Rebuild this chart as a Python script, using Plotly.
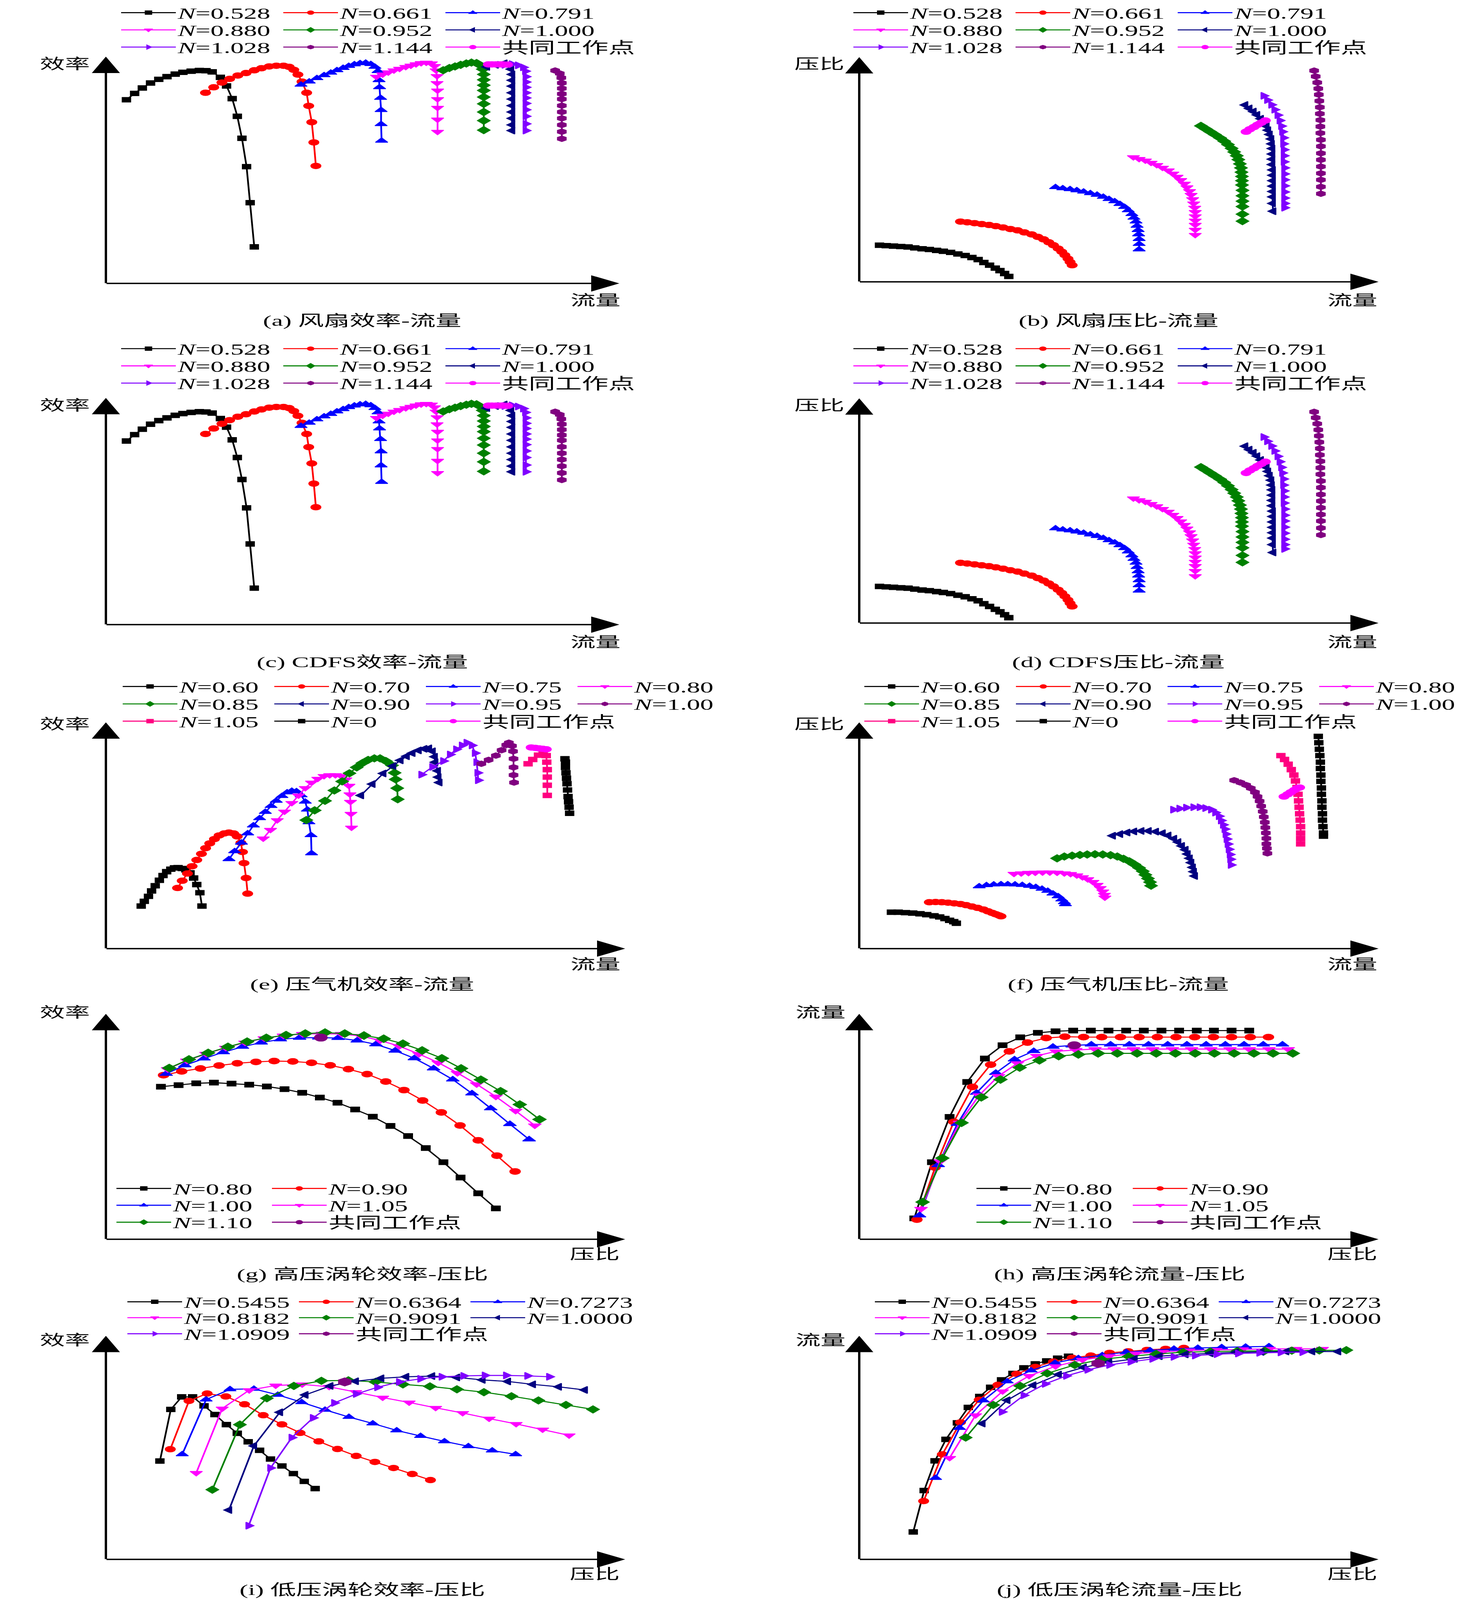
import plotly.graph_objects as go

W, H = 3780, 7057
SERIF = "Liberation Serif, Noto Sans CJK SC, serif"
FS_LEG = 68
FS_LAB = 64
FS_CAP = 66
LEG_DY, LAB_DY, CAP_DY = -2, 0, 2   # small optical corrections of text centres

BLACK = "#000000"; RED = "#FF0000"; BLUE = "#0000FF"; MAGENTA = "#FF00FF"
GREEN = "#008000"; NAVY = "#000080"; VIOLET = "#8000FF"; PURPLE = "#800080"; PINK = "#FF0080"

# ================= DATA (normalised readings; the figure shows no tick values) =================
# ---- fan efficiency vs flow : panels (a) and (c)
fan_eff_flow_0528 = [4.0, 5.6, 7.1, 8.7, 10.3, 11.9, 13.5, 15.0, 16.6, 18.2, 19.5, 20.7, 22.3, 23.5, 24.6, 25.6, 26.5, 27.4, 28.1, 28.9]
fan_eff_0528 = [81.0, 83.8, 86.2, 88.4, 90.0, 91.2, 92.3, 93.1, 93.6, 93.9, 93.8, 93.3, 90.9, 87.1, 81.5, 73.7, 64.0, 51.5, 35.6, 16.1]
fan_eff_flow_0661 = [19.4, 21.0, 22.6, 24.1, 25.7, 27.3, 28.9, 30.3, 31.8, 33.2, 34.6, 35.7, 36.6, 37.4, 38.2, 39.1, 39.5, 40.1, 40.5, 40.9]
fan_eff_0661 = [84.1, 86.5, 88.6, 90.2, 91.7, 92.8, 94.0, 94.9, 95.7, 96.0, 96.0, 95.5, 94.2, 92.1, 89.0, 84.1, 78.3, 71.1, 62.2, 51.8]
fan_eff_flow_0791 = [38.0, 39.6, 41.1, 42.5, 43.8, 45.0, 46.2, 47.3, 48.4, 49.5, 50.6, 51.6, 52.4, 53.0, 53.2, 53.3, 53.5, 53.6, 53.6, 53.7]
fan_eff_0791 = [87.6, 89.0, 90.5, 91.8, 92.9, 94.0, 95.0, 95.9, 96.6, 97.1, 97.3, 96.7, 95.5, 93.6, 89.6, 86.5, 81.8, 76.4, 70.2, 62.9]
fan_eff_flow_0880 = [52.7, 53.9, 55.0, 56.1, 57.2, 58.4, 59.4, 60.4, 61.4, 62.4, 63.4, 64.0, 64.3, 64.5, 64.5, 64.6, 64.6, 64.6, 64.6, 64.6]
fan_eff_0880 = [91.2, 92.2, 93.1, 94.0, 94.7, 95.5, 96.1, 96.7, 97.2, 97.4, 97.1, 95.9, 94.0, 91.5, 88.4, 85.1, 81.3, 77.5, 72.3, 66.9]
fan_eff_flow_0952 = [65.7, 66.9, 68.0, 69.1, 70.2, 71.2, 72.2, 72.9, 73.4, 73.6, 73.6, 73.6, 73.6, 73.6, 73.6, 73.6, 73.6, 73.6]
fan_eff_0952 = [94.0, 95.0, 95.7, 96.4, 97.0, 97.4, 97.2, 96.2, 94.5, 92.2, 89.8, 87.4, 85.1, 82.2, 79.2, 75.6, 71.8, 67.6]
fan_eff_flow_1000 = [74.2, 75.9, 77.6, 78.5, 78.9, 79.1, 79.1, 79.1, 79.1, 79.1, 79.1, 79.1, 79.1, 79.1, 79.1]
fan_eff_1000 = [95.5, 96.4, 97.1, 96.4, 94.5, 92.2, 89.6, 87.0, 84.1, 81.3, 78.4, 75.6, 72.8, 69.9, 67.4]
fan_eff_flow_1028 = [77.7, 79.1, 80.3, 81.3, 81.7, 81.8, 81.8, 81.8, 81.8, 81.8, 81.8, 81.8, 81.8, 81.8, 81.8]
fan_eff_1028 = [96.4, 96.7, 96.2, 95.3, 93.6, 91.2, 88.8, 86.5, 84.1, 81.8, 79.4, 76.6, 73.7, 70.4, 67.4]
fan_eff_flow_1144 = [87.5, 88.4, 88.7, 88.8, 88.8, 88.8, 88.8, 88.8, 88.8, 88.8, 88.8, 88.8, 88.8]
fan_eff_1144 = [93.9, 92.6, 90.7, 88.4, 86.0, 83.6, 81.3, 78.4, 75.6, 72.8, 69.9, 66.9, 63.8]
fan_cw_flow = [74.5, 75.2, 76.0, 76.7, 77.4, 78.2]
fan_cw_eff = [96.6, 96.6, 96.6, 96.6, 96.6, 96.5]

# ---- fan pressure ratio vs flow : panels (b) and (d)
fan_pr_flow_0528 = [3.9, 5.2, 6.6, 8.0, 9.4, 10.7, 12.1, 13.5, 14.9, 16.2, 17.6, 19.0, 20.4, 21.7, 22.9, 24.0, 25.1, 26.2, 27.1, 28.0, 28.8]
fan_pr_0528 = [16.3, 16.1, 15.9, 15.7, 15.5, 15.1, 14.7, 14.4, 14.0, 13.6, 13.1, 12.4, 11.7, 10.8, 9.9, 8.6, 7.4, 6.1, 5.0, 3.7, 2.4]
fan_pr_flow_0661 = [19.5, 20.8, 22.2, 23.6, 25.0, 26.3, 27.7, 29.1, 30.5, 31.8, 33.2, 34.4, 35.5, 36.5, 37.4, 38.3, 39.0, 39.6, 40.2, 40.6, 41.0]
fan_pr_0661 = [26.8, 26.5, 26.1, 25.7, 25.3, 24.8, 24.2, 23.5, 22.9, 22.0, 21.1, 20.0, 18.9, 17.6, 16.3, 14.8, 13.4, 11.9, 10.3, 8.8, 7.4]
fan_pr_flow_0791 = [37.8, 39.2, 40.6, 41.9, 43.2, 44.5, 45.8, 47.0, 48.1, 49.2, 50.2, 51.1, 51.8, 52.5, 52.9, 53.3, 53.5, 53.7, 53.8, 53.9, 53.9, 53.9]
fan_pr_0791 = [42.1, 41.6, 41.2, 40.7, 40.1, 39.4, 38.7, 37.8, 36.8, 35.8, 34.6, 33.3, 31.8, 30.1, 28.5, 26.8, 24.9, 23.0, 21.1, 19.0, 16.8, 14.4]
fan_pr_flow_0880 = [52.8, 53.9, 55.1, 56.2, 57.3, 58.4, 59.5, 60.4, 61.2, 61.9, 62.6, 63.1, 63.6, 63.9, 64.2, 64.4, 64.6, 64.7, 64.7, 64.7, 64.7, 64.7, 64.7]
fan_pr_0880 = [55.5, 54.7, 54.0, 53.0, 52.0, 50.8, 49.6, 48.2, 46.8, 45.3, 43.7, 42.1, 40.4, 38.7, 36.8, 34.9, 33.0, 31.1, 29.2, 27.3, 25.4, 23.2, 20.9]
fan_pr_flow_0952 = [65.8, 66.7, 67.6, 68.5, 69.5, 70.3, 71.0, 71.7, 72.2, 72.7, 73.0, 73.3, 73.5, 73.6, 73.7, 73.7, 73.7, 73.8, 73.8, 73.8, 73.8, 73.8, 73.8]
fan_pr_0952 = [69.4, 68.1, 66.8, 65.5, 64.0, 62.6, 61.1, 59.4, 57.8, 56.1, 54.4, 52.5, 50.7, 48.8, 46.9, 45.0, 43.1, 40.7, 38.3, 35.9, 33.5, 30.1, 27.0]
fan_pr_flow_1000 = [74.3, 75.1, 75.9, 76.6, 77.3, 77.8, 78.4, 78.7, 79.0, 79.3, 79.4, 79.5, 79.5, 79.5, 79.5, 79.6, 79.6, 79.6, 79.6, 79.6, 79.6, 79.6, 79.7]
fan_pr_1000 = [78.7, 77.2, 75.8, 74.3, 72.6, 71.0, 69.3, 67.5, 65.6, 63.6, 61.4, 59.3, 56.9, 54.6, 52.2, 49.8, 47.4, 45.0, 42.6, 40.2, 37.8, 34.9, 31.4]
fan_pr_flow_1028 = [77.9, 78.6, 79.4, 80.0, 80.6, 81.0, 81.3, 81.5, 81.7, 81.7, 81.8, 81.8, 81.8, 81.9, 81.9, 81.9, 81.9, 81.9, 81.9, 81.9, 81.9]
fan_pr_1028 = [82.8, 80.9, 78.8, 76.6, 74.2, 71.8, 69.3, 66.8, 64.1, 61.4, 58.8, 56.1, 53.4, 50.7, 48.0, 45.4, 42.7, 40.0, 37.3, 34.9, 33.0]
fan_pr_flow_1144 = [87.6, 87.9, 88.2, 88.4, 88.5, 88.6, 88.7, 88.7, 88.8, 88.8, 88.8, 88.9, 88.9, 88.9, 88.9, 88.9, 88.9, 88.9, 88.9, 88.9]
fan_pr_1144 = [94.0, 91.4, 88.7, 86.0, 83.3, 80.5, 77.7, 74.8, 72.0, 69.1, 66.2, 63.2, 60.3, 57.2, 54.3, 51.3, 48.3, 45.4, 42.3, 39.2]
fan_cw_pr = [66.8, 67.9, 68.9, 69.9, 70.8, 71.8]

# ---- compressor efficiency vs flow : panel (e)
cmp_eff_flow_060 = [6.8, 7.4, 8.2, 8.8, 9.5, 10.3, 11.0, 11.7, 12.5, 13.2, 13.9, 14.7, 15.4, 16.2, 16.9, 17.5, 18.1, 18.5]
cmp_eff_060 = [18.8, 20.9, 23.1, 25.5, 27.8, 30.2, 32.3, 34.0, 35.1, 35.7, 35.8, 35.4, 34.8, 33.5, 31.2, 28.3, 24.7, 18.8]
cmp_eff_flow_070 = [13.8, 14.7, 15.7, 16.6, 17.5, 18.4, 19.2, 20.0, 20.9, 21.8, 22.8, 23.7, 24.6, 25.3, 26.0, 26.3, 26.6, 27.0, 27.3]
cmp_eff_070 = [26.8, 30.0, 33.2, 36.4, 39.2, 41.9, 44.4, 46.5, 48.4, 50.0, 50.9, 51.3, 50.9, 49.6, 46.8, 42.7, 37.8, 31.2, 24.3]
cmp_eff_flow_075 = [23.7, 24.8, 26.1, 27.3, 28.4, 29.6, 30.7, 31.8, 32.8, 33.9, 34.9, 35.8, 36.7, 37.6, 38.4, 38.8, 39.1, 39.5, 39.6]
cmp_eff_075 = [39.5, 43.0, 46.8, 50.9, 54.4, 57.6, 60.4, 63.0, 65.3, 67.4, 69.0, 69.7, 69.5, 67.7, 64.9, 61.4, 55.8, 50.1, 42.1]
cmp_eff_flow_080 = [30.3, 31.7, 33.0, 34.4, 35.8, 37.1, 38.4, 39.6, 40.8, 42.0, 43.1, 44.2, 45.3, 46.2, 46.8, 47.0, 47.1, 47.2, 47.3]
cmp_eff_080 = [48.7, 52.5, 56.8, 60.6, 64.4, 67.7, 71.0, 73.4, 75.1, 76.3, 76.7, 76.7, 76.3, 74.8, 72.0, 68.2, 64.9, 59.6, 53.5]
cmp_eff_flow_085 = [38.6, 40.2, 42.2, 44.0, 45.5, 46.9, 48.3, 49.4, 50.5, 51.7, 52.8, 53.9, 55.1, 55.6, 55.8, 56.1, 56.2]
cmp_eff_085 = [56.8, 61.1, 65.3, 69.9, 73.9, 77.5, 80.1, 82.0, 83.4, 84.1, 84.1, 82.9, 81.0, 77.7, 74.8, 70.9, 66.0]
cmp_eff_flow_090 = [49.1, 51.3, 53.4, 55.3, 56.7, 57.9, 59.0, 60.2, 61.3, 62.2, 62.9, 63.3, 63.4, 63.9, 64.0, 64.2]
cmp_eff_090 = [67.7, 72.7, 77.4, 80.7, 83.2, 85.0, 86.4, 87.6, 88.3, 88.5, 87.2, 84.8, 82.4, 78.6, 75.8, 73.4]
cmp_eff_flow_095 = [60.8, 62.9, 65.0, 66.3, 67.5, 68.6, 69.5, 70.5, 71.1, 71.4, 71.6, 71.7]
cmp_eff_095 = [76.9, 80.3, 82.9, 85.8, 88.1, 89.8, 91.0, 89.8, 86.4, 82.4, 77.7, 74.4]
cmp_eff_flow_100 = [72.3, 73.7, 75.1, 76.2, 77.1, 77.6, 78.2, 78.4, 78.5, 78.5, 78.5, 78.6]
cmp_eff_100 = [81.7, 83.4, 85.3, 87.7, 90.0, 91.0, 89.6, 87.2, 83.9, 80.1, 76.7, 73.4]
cmp_eff_flow_105 = [81.3, 82.2, 83.3, 84.2, 84.8, 84.9, 85.0, 85.0, 85.0, 85.0]
cmp_eff_105 = [81.7, 83.6, 85.5, 86.4, 85.3, 82.4, 79.1, 75.8, 72.2, 67.7]
cmp_eff_flow_000 = [88.4, 88.5, 88.5, 88.6, 88.7, 88.8, 88.9, 89.0, 89.1, 89.2, 89.3]
cmp_eff_000 = [83.9, 82.4, 80.1, 77.7, 75.3, 72.9, 70.1, 67.2, 64.9, 62.5, 59.8]
cmp_cw_eff_flow = [81.9, 82.7, 83.4, 84.1, 84.8]
cmp_cw_eff = [88.9, 88.7, 88.5, 88.3, 88.1]

# ---- compressor pressure ratio vs flow : panel (f)
cmp_pr_flow_060 = [6.2, 7.5, 8.9, 10.3, 11.7, 13.0, 14.4, 15.5, 16.5, 17.4, 18.2, 18.7]
cmp_pr_060 = [16.1, 16.1, 15.9, 15.7, 15.4, 15.0, 14.5, 14.0, 13.3, 12.5, 11.9, 11.2]
cmp_pr_flow_070 = [13.5, 14.7, 15.9, 17.1, 18.3, 19.5, 20.6, 21.7, 22.8, 23.9, 24.8, 25.6, 26.3, 26.9, 27.3]
cmp_pr_070 = [20.5, 20.6, 20.5, 20.3, 20.0, 19.7, 19.2, 18.6, 18.0, 17.3, 16.5, 15.8, 15.2, 14.7, 14.3]
cmp_pr_flow_075 = [23.1, 24.5, 25.9, 27.3, 28.6, 30.0, 31.4, 32.8, 34.0, 35.2, 36.3, 37.3, 38.3, 39.0, 39.5, 39.7]
cmp_pr_075 = [27.5, 28.0, 28.3, 28.4, 28.4, 28.3, 28.1, 27.7, 27.2, 26.4, 25.5, 24.3, 23.1, 21.7, 20.5, 19.6]
cmp_pr_flow_080 = [29.8, 31.2, 32.6, 33.9, 35.3, 36.7, 38.1, 39.5, 40.7, 41.9, 43.0, 44.0, 45.0, 45.8, 46.4, 46.9, 47.2, 47.3]
cmp_pr_080 = [33.1, 33.3, 33.5, 33.6, 33.7, 33.7, 33.6, 33.3, 33.0, 32.4, 31.6, 30.7, 29.5, 28.2, 26.8, 25.3, 23.8, 22.6]
cmp_pr_flow_085 = [38.1, 39.5, 41.0, 42.5, 43.9, 45.4, 46.9, 48.4, 49.7, 50.9, 52.0, 53.0, 53.9, 54.6, 55.1, 55.6, 56.0, 56.2]
cmp_pr_085 = [39.9, 40.7, 41.1, 41.4, 41.6, 41.7, 41.6, 41.3, 40.7, 39.7, 38.6, 37.2, 35.7, 34.2, 32.6, 31.0, 29.4, 27.8]
cmp_pr_flow_090 = [48.8, 50.2, 51.6, 52.9, 54.3, 55.7, 57.1, 58.4, 59.5, 60.6, 61.4, 62.1, 62.8, 63.2, 63.6, 63.9, 64.2, 64.4, 64.6]
cmp_pr_090 = [49.9, 50.6, 51.3, 51.8, 52.0, 52.0, 51.7, 51.0, 50.0, 48.6, 47.1, 45.4, 43.7, 41.8, 39.9, 38.0, 35.9, 34.0, 32.1]
cmp_pr_flow_095 = [60.5, 61.7, 63.0, 64.4, 65.6, 66.7, 67.8, 68.6, 69.3, 69.7, 70.1, 70.4, 70.6, 70.8, 71.0, 71.2, 71.4, 71.5, 71.6]
cmp_pr_095 = [61.4, 61.9, 62.3, 62.5, 62.5, 62.1, 61.4, 60.1, 58.5, 56.6, 54.7, 52.8, 50.6, 48.4, 46.2, 43.9, 41.6, 39.5, 37.0]
cmp_pr_flow_100 = [72.2, 73.4, 74.5, 75.4, 76.2, 76.7, 77.1, 77.4, 77.7, 77.9, 78.1, 78.2, 78.3, 78.4, 78.4, 78.5, 78.6]
cmp_pr_100 = [74.4, 73.4, 72.3, 70.9, 69.1, 67.2, 65.2, 63.0, 60.6, 58.2, 55.8, 53.5, 51.1, 48.7, 46.3, 44.3, 42.1]
cmp_pr_flow_105 = [81.2, 81.9, 82.6, 83.2, 83.7, 84.0, 84.3, 84.5, 84.6, 84.7, 84.8, 84.9, 85.0, 85.0, 85.0, 85.0]
cmp_pr_105 = [85.3, 83.6, 81.5, 79.1, 76.7, 74.1, 71.2, 68.2, 65.3, 62.5, 59.6, 56.8, 53.9, 51.1, 48.7, 46.3]
cmp_pr_flow_000 = [88.4, 88.5, 88.6, 88.7, 88.8, 88.8, 88.9, 88.9, 89.0, 89.0, 89.1, 89.1, 89.2, 89.2, 89.3, 89.4, 89.4]
cmp_pr_000 = [93.8, 91.0, 88.1, 85.3, 82.4, 79.6, 76.7, 73.9, 71.0, 68.2, 65.3, 62.5, 59.6, 56.8, 53.9, 51.1, 49.7]
cmp_cw_pr_flow = [81.8, 82.5, 83.1, 83.8, 84.4, 84.8]
cmp_cw_pr = [67.2, 68.2, 69.1, 70.1, 70.9, 71.2]

# ---- high pressure turbine : panels (g) efficiency and (h) flow vs pressure ratio
hpt_pr_080 = [10.6, 14.0, 17.4, 20.8, 24.2, 27.6, 31.0, 34.4, 37.8, 41.2, 44.6, 48.0, 51.4, 54.8, 58.2, 61.6, 65.0, 68.3, 71.7, 75.1]
hpt_eff_080 = [67.7, 68.4, 69.2, 69.5, 69.1, 68.6, 67.8, 66.6, 65.0, 62.9, 60.6, 57.6, 54.4, 50.3, 45.8, 40.5, 34.2, 27.4, 20.4, 13.7]
hpt_flow_080 = [9.3, 34.2, 54.3, 69.8, 80.2, 86.1, 89.6, 91.6, 92.3, 92.6, 92.6, 92.6, 92.6, 92.6, 92.6, 92.6, 92.6, 92.6, 92.6, 92.6]
hpt_pr_090 = [11.1, 14.6, 18.2, 21.8, 25.3, 28.9, 32.4, 36.0, 39.6, 43.2, 46.7, 50.3, 53.9, 57.4, 61.0, 64.6, 68.2, 71.7, 75.3, 78.8]
hpt_eff_090 = [72.8, 74.5, 75.8, 77.1, 78.1, 78.7, 79.1, 78.9, 78.3, 77.2, 75.5, 73.3, 70.0, 66.2, 61.6, 56.3, 50.5, 43.9, 37.1, 30.1]
hpt_flow_090 = [8.7, 31.8, 52.1, 67.6, 77.5, 83.4, 87.3, 89.3, 89.9, 89.7, 89.7, 89.7, 89.7, 89.7, 89.7, 89.7, 89.7, 89.7, 89.7, 89.7]
hpt_pr_100 = [11.6, 15.2, 18.9, 22.6, 26.3, 29.9, 33.6, 37.3, 41.0, 44.7, 48.4, 52.0, 55.7, 59.4, 63.1, 66.8, 70.5, 74.1, 77.8, 81.5]
hpt_eff_100 = [73.4, 77.2, 80.2, 83.0, 85.4, 87.3, 88.7, 89.4, 89.5, 89.3, 88.2, 86.5, 83.7, 80.3, 75.8, 70.9, 64.7, 58.1, 51.1, 44.3]
hpt_flow_100 = [10.6, 32.9, 51.2, 65.0, 73.8, 79.8, 83.5, 85.4, 86.0, 86.4, 86.4, 86.4, 86.4, 86.4, 86.4, 86.4, 86.4, 86.4, 86.4, 86.4]
hpt_pr_105 = [11.9, 15.6, 19.3, 23.1, 26.8, 30.5, 34.2, 37.9, 41.7, 45.4, 49.1, 52.8, 56.5, 60.3, 64.0, 67.7, 71.4, 75.1, 78.9, 82.6]
hpt_eff_105 = [75.5, 79.3, 82.3, 85.0, 87.3, 89.2, 90.4, 91.1, 91.2, 91.1, 90.2, 88.2, 85.7, 82.2, 78.4, 73.8, 68.8, 63.3, 57.0, 50.5]
hpt_flow_105 = [13.5, 34.6, 51.7, 63.9, 72.4, 78.1, 81.4, 83.4, 84.0, 84.4, 84.4, 84.4, 84.4, 84.4, 84.4, 84.4, 84.4, 84.4, 84.4, 84.4]
hpt_pr_110 = [12.2, 16.0, 19.7, 23.5, 27.2, 30.9, 34.7, 38.4, 42.2, 46.0, 49.7, 53.5, 57.2, 60.9, 64.7, 68.4, 72.2, 76.0, 79.7, 83.5]
hpt_eff_110 = [76.0, 79.8, 82.7, 85.4, 87.7, 89.4, 90.6, 91.3, 91.7, 91.3, 90.4, 89.0, 86.8, 83.8, 80.3, 75.8, 70.8, 65.7, 59.8, 53.2]
hpt_flow_110 = [16.5, 36.0, 51.7, 63.0, 70.9, 76.2, 79.4, 81.3, 82.0, 82.5, 82.5, 82.5, 82.5, 82.5, 82.5, 82.5, 82.5, 82.5, 82.5, 82.5]
hpt_cw_pr = [41.4]
hpt_cw_eff = [89.5]
hpt_cw_flow = [86.1]

# ---- low pressure turbine : panels (i) efficiency and (j) flow vs pressure ratio
lpt_pr_05455 = [10.4, 12.5, 14.6, 16.7, 18.9, 21.0, 23.2, 25.3, 27.4, 29.6, 31.7, 33.9, 36.1, 38.2, 40.3]
lpt_eff_05455 = [44.0, 67.1, 72.7, 72.7, 68.7, 64.8, 60.3, 56.4, 52.6, 48.8, 44.9, 41.8, 38.4, 34.9, 31.7]
lpt_flow_05455 = [12.3, 30.8, 44.1, 53.7, 61.1, 68.0, 72.9, 77.0, 80.3, 83.2, 85.7, 87.5, 88.8, 90.0, 90.9]
lpt_pr_06364 = [12.4, 16.0, 19.5, 23.1, 26.7, 30.3, 33.9, 37.4, 41.0, 44.6, 48.2, 51.8, 55.4, 59.0, 62.5]
lpt_eff_06364 = [49.3, 70.9, 74.2, 72.9, 69.4, 64.5, 60.4, 56.6, 52.8, 49.4, 46.3, 43.6, 40.9, 38.2, 35.5]
lpt_flow_06364 = [26.1, 47.0, 61.3, 71.4, 78.1, 83.0, 86.1, 88.5, 90.2, 91.2, 92.4, 93.1, 93.7, 94.2, 94.6]
lpt_pr_07273 = [14.7, 19.3, 23.9, 28.5, 33.1, 37.7, 42.2, 46.8, 51.4, 56.0, 60.6, 65.2, 69.8, 74.4, 78.9]
lpt_eff_07273 = [47.0, 71.5, 76.1, 76.3, 73.6, 70.3, 66.9, 63.7, 60.8, 57.7, 55.2, 52.8, 50.6, 48.7, 47.0]
lpt_flow_07273 = [36.4, 58.8, 71.1, 79.6, 84.5, 87.9, 90.0, 91.3, 92.7, 93.5, 94.2, 94.6, 94.9, 95.1, 95.3]
lpt_pr_08182 = [17.4, 22.4, 27.6, 32.7, 37.8, 43.0, 48.1, 53.3, 58.4, 63.5, 68.7, 73.8, 79.0, 84.1, 89.2]
lpt_eff_08182 = [38.7, 67.5, 75.7, 77.8, 78.3, 77.2, 74.9, 72.4, 70.2, 67.8, 65.5, 63.0, 60.6, 58.1, 55.5]
lpt_flow_08182 = [45.4, 64.5, 75.2, 82.1, 86.4, 89.3, 90.9, 92.1, 92.8, 93.5, 93.7, 94.0, 94.2, 94.2, 94.2]
lpt_pr_09091 = [20.5, 25.8, 31.0, 36.2, 41.5, 46.7, 51.9, 57.2, 62.4, 67.6, 72.8, 78.1, 83.3, 88.6, 93.8]
lpt_eff_09091 = [31.2, 60.3, 72.1, 77.6, 79.9, 80.1, 79.4, 78.3, 77.4, 76.1, 74.8, 73.0, 71.1, 69.1, 67.1]
lpt_flow_09091 = [54.5, 69.1, 77.6, 83.2, 87.0, 89.5, 90.8, 91.9, 92.7, 93.0, 93.2, 93.3, 93.4, 93.5, 93.6]
lpt_pr_10000 = [23.7, 28.5, 33.5, 38.4, 43.2, 48.1, 53.0, 57.8, 62.8, 67.6, 72.5, 77.4, 82.2, 87.2, 92.2]
lpt_eff_10000 = [22.1, 50.8, 65.8, 73.6, 77.6, 79.7, 81.0, 81.7, 82.0, 81.4, 80.3, 79.6, 78.3, 77.2, 75.8]
lpt_flow_10000 = [60.8, 71.2, 77.9, 82.7, 85.9, 88.2, 89.7, 90.9, 91.7, 92.2, 92.6, 92.8, 93.0, 93.0, 93.0]
lpt_pr_10909 = [27.5, 31.7, 35.8, 39.9, 44.0, 48.2, 52.3, 56.5, 60.6, 64.7, 68.9, 73.0, 77.1, 81.2, 85.4]
lpt_eff_10909 = [15.1, 40.9, 54.5, 63.3, 70.0, 74.0, 77.0, 79.4, 80.8, 81.7, 82.1, 82.3, 82.3, 82.1, 81.7]
lpt_flow_10909 = [66.0, 73.4, 78.5, 82.1, 84.8, 87.0, 88.4, 89.7, 90.6, 91.2, 91.8, 92.1, 92.4, 92.6, 92.7]
lpt_cw_pr = [46.0]
lpt_cw_eff = [79.4]
lpt_cw_flow = [87.7]

# ---- legend labels
fan_labels = ["<i>N</i>=0.528", "<i>N</i>=0.661", "<i>N</i>=0.791", "<i>N</i>=0.880", "<i>N</i>=0.952",
              "<i>N</i>=1.000", "<i>N</i>=1.028", "<i>N</i>=1.144", "共同工作点"]
cmp_labels = ["<i>N</i>=0.60", "<i>N</i>=0.70", "<i>N</i>=0.75", "<i>N</i>=0.80", "<i>N</i>=0.85", "<i>N</i>=0.90",
              "<i>N</i>=0.95", "<i>N</i>=1.00", "<i>N</i>=1.05", "<i>N</i>=0", "共同工作点"]
hpt_labels = ["<i>N</i>=0.80", "<i>N</i>=0.90", "<i>N</i>=1.00", "<i>N</i>=1.05", "<i>N</i>=1.10", "共同工作点"]
lpt_labels = ["<i>N</i>=0.5455", "<i>N</i>=0.6364", "<i>N</i>=0.7273", "<i>N</i>=0.8182", "<i>N</i>=0.9091",
              "<i>N</i>=1.0000", "<i>N</i>=1.0909", "共同工作点"]

# ================= STYLE =================
fan_styles = [(BLACK, "square"), (RED, "circle"), (BLUE, "triangle-up"), (MAGENTA, "triangle-down"),
              (GREEN, "diamond"), (NAVY, "triangle-left"), (VIOLET, "triangle-right"), (PURPLE, "hexagon"),
              (MAGENTA, "circle")]
cmp_styles = [(BLACK, "square"), (RED, "circle"), (BLUE, "triangle-up"), (MAGENTA, "triangle-down"),
              (GREEN, "diamond"), (NAVY, "triangle-left"), (VIOLET, "triangle-right"), (PURPLE, "hexagon"),
              (PINK, "square"), (BLACK, "square"), (MAGENTA, "circle")]
hpt_styles = [(BLACK, "square"), (RED, "circle"), (BLUE, "triangle-up"), (MAGENTA, "triangle-down"),
              (GREEN, "diamond"), (PURPLE, "circle")]
lpt_styles = [(BLACK, "square"), (RED, "circle"), (BLUE, "triangle-up"), (MAGENTA, "triangle-down"),
              (GREEN, "diamond"), (NAVY, "triangle-left"), (VIOLET, "triangle-right"), (PURPLE, "hexagon")]

MS = {"square": 21, "circle": 25, "triangle-up": 27, "triangle-down": 27, "diamond": 25,
      "triangle-left": 27, "triangle-right": 27, "hexagon": 25}
MLW = 3  # marker outline in the marker colour (also enlarges legend symbols)

fan_eff_series = [(fan_eff_flow_0528, fan_eff_0528), (fan_eff_flow_0661, fan_eff_0661), (fan_eff_flow_0791, fan_eff_0791),
                  (fan_eff_flow_0880, fan_eff_0880), (fan_eff_flow_0952, fan_eff_0952), (fan_eff_flow_1000, fan_eff_1000),
                  (fan_eff_flow_1028, fan_eff_1028), (fan_eff_flow_1144, fan_eff_1144), (fan_cw_flow, fan_cw_eff)]
fan_pr_series = [(fan_pr_flow_0528, fan_pr_0528), (fan_pr_flow_0661, fan_pr_0661), (fan_pr_flow_0791, fan_pr_0791),
                 (fan_pr_flow_0880, fan_pr_0880), (fan_pr_flow_0952, fan_pr_0952), (fan_pr_flow_1000, fan_pr_1000),
                 (fan_pr_flow_1028, fan_pr_1028), (fan_pr_flow_1144, fan_pr_1144), (fan_cw_flow, fan_cw_pr)]
cmp_eff_series = [(cmp_eff_flow_060, cmp_eff_060), (cmp_eff_flow_070, cmp_eff_070), (cmp_eff_flow_075, cmp_eff_075),
                  (cmp_eff_flow_080, cmp_eff_080), (cmp_eff_flow_085, cmp_eff_085), (cmp_eff_flow_090, cmp_eff_090),
                  (cmp_eff_flow_095, cmp_eff_095), (cmp_eff_flow_100, cmp_eff_100), (cmp_eff_flow_105, cmp_eff_105),
                  (cmp_eff_flow_000, cmp_eff_000), (cmp_cw_eff_flow, cmp_cw_eff)]
cmp_pr_series = [(cmp_pr_flow_060, cmp_pr_060), (cmp_pr_flow_070, cmp_pr_070), (cmp_pr_flow_075, cmp_pr_075),
                 (cmp_pr_flow_080, cmp_pr_080), (cmp_pr_flow_085, cmp_pr_085), (cmp_pr_flow_090, cmp_pr_090),
                 (cmp_pr_flow_095, cmp_pr_095), (cmp_pr_flow_100, cmp_pr_100), (cmp_pr_flow_105, cmp_pr_105),
                 (cmp_pr_flow_000, cmp_pr_000), (cmp_cw_pr_flow, cmp_cw_pr)]
hpt_eff_series = [(hpt_pr_080, hpt_eff_080), (hpt_pr_090, hpt_eff_090), (hpt_pr_100, hpt_eff_100),
                  (hpt_pr_105, hpt_eff_105), (hpt_pr_110, hpt_eff_110), (hpt_cw_pr, hpt_cw_eff)]
hpt_flow_series = [(hpt_pr_080, hpt_flow_080), (hpt_pr_090, hpt_flow_090), (hpt_pr_100, hpt_flow_100),
                   (hpt_pr_105, hpt_flow_105), (hpt_pr_110, hpt_flow_110), (hpt_cw_pr, hpt_cw_flow)]
lpt_eff_series = [(lpt_pr_05455, lpt_eff_05455), (lpt_pr_06364, lpt_eff_06364), (lpt_pr_07273, lpt_eff_07273),
                  (lpt_pr_08182, lpt_eff_08182), (lpt_pr_09091, lpt_eff_09091), (lpt_pr_10000, lpt_eff_10000),
                  (lpt_pr_10909, lpt_eff_10909), (lpt_cw_pr, lpt_cw_eff)]
lpt_flow_series = [(lpt_pr_05455, lpt_flow_05455), (lpt_pr_06364, lpt_flow_06364), (lpt_pr_07273, lpt_flow_07273),
                   (lpt_pr_08182, lpt_flow_08182), (lpt_pr_09091, lpt_flow_09091), (lpt_pr_10000, lpt_flow_10000),
                   (lpt_pr_10909, lpt_flow_10909), (lpt_cw_pr, lpt_cw_flow)]

ROWS3 = [[0, 1, 2], [3, 4, 5], [6, 7, 8]]
ROWS4 = [[0, 1, 2, 3], [4, 5, 6, 7], [8, 9, 10]]
ROWS2 = [[0, 1], [2, 3], [4, 5]]
ROWSL = [[0, 1, 2], [3, 4, 5], [6, 7]]

# panel layout in page pixels: box = (x of y-axis, x of arrow tip, y of x-axis, y of arrow tip)
panels = [
    dict(series=fan_eff_series, labels=fan_labels, styles=fan_styles, box=(271, 1585, 1250, 250),
         ylab="效率", ylab_xy=(166, 284), xlab="流量", xlab_xy=(1524, 1327), cap="(a) 风扇效率-流量", cap_xy=(927, 1413),
         leg_x=311, leg_rows=(58, 134, 210), pitch=415, rows=ROWS3, ms=1.0, cw_ms=None),
    dict(series=fan_pr_series, labels=fan_labels, styles=fan_styles, box=(2199, 3528, 1243, 252),
         ylab="压比", ylab_xy=(2097, 284), xlab="流量", xlab_xy=(3461, 1327), cap="(b) 风扇压比-流量", cap_xy=(2862, 1413),
         leg_x=2185, leg_rows=(58, 134, 210), pitch=415, rows=ROWS3, ms=1.0, cw_ms=None),
    dict(series=fan_eff_series, labels=fan_labels, styles=fan_styles, box=(271, 1585, 2755, 1755),
         ylab="效率", ylab_xy=(166, 1789), xlab="流量", xlab_xy=(1524, 2832), cap="(c) CDFS效率-流量", cap_xy=(927, 2918),
         leg_x=311, leg_rows=(1540, 1616, 1692), pitch=415, rows=ROWS3, ms=1.0, cw_ms=None),
    dict(series=fan_pr_series, labels=fan_labels, styles=fan_styles, box=(2199, 3528, 2748, 1757),
         ylab="压比", ylab_xy=(2097, 1789), xlab="流量", xlab_xy=(3461, 2832), cap="(d) CDFS压比-流量", cap_xy=(2862, 2918),
         leg_x=2185, leg_rows=(1540, 1616, 1692), pitch=415, rows=ROWS3, ms=1.0, cw_ms=None),
    dict(series=cmp_eff_series, labels=cmp_labels, styles=cmp_styles, box=(271, 1600, 4184, 3186),
         ylab="效率", ylab_xy=(166, 3195), xlab="流量", xlab_xy=(1524, 4254), cap="(e) 压气机效率-流量", cap_xy=(927, 4340),
         leg_x=315, leg_rows=(3030, 3107, 3183), pitch=388, rows=ROWS4, ms=1.0, cw_ms=None),
    dict(series=cmp_pr_series, labels=cmp_labels, styles=cmp_styles, box=(2199, 3528, 4184, 3186),
         ylab="压比", ylab_xy=(2097, 3195), xlab="流量", xlab_xy=(3461, 4254), cap="(f) 压气机压比-流量", cap_xy=(2862, 4340),
         leg_x=2213, leg_rows=(3030, 3107, 3183), pitch=388, rows=ROWS4, ms=1.0, cw_ms=None),
    dict(series=hpt_eff_series, labels=hpt_labels, styles=hpt_styles, box=(271, 1600, 5466, 4472),
         ylab="效率", ylab_xy=(166, 4466), xlab="压比", xlab_xy=(1522, 5532), cap="(g) 高压涡轮效率-压比", cap_xy=(927, 5618),
         leg_x=299, leg_rows=(5244, 5318, 5393), pitch=398, rows=ROWS2, ms=1.05, cw_ms=32),
    dict(series=hpt_flow_series, labels=hpt_labels, styles=hpt_styles, box=(2199, 3528, 5466, 4472),
         ylab="流量", ylab_xy=(2100, 4466), xlab="压比", xlab_xy=(3461, 5532), cap="(h) 高压涡轮流量-压比", cap_xy=(2865, 5618),
         leg_x=2500, leg_rows=(5244, 5318, 5393), pitch=400, rows=ROWS2, ms=1.05, cw_ms=32),
    dict(series=lpt_eff_series, labels=lpt_labels, styles=lpt_styles, box=(271, 1600, 6878, 5892),
         ylab="效率", ylab_xy=(166, 5911), xlab="压比", xlab_xy=(1522, 6943), cap="(i) 低压涡轮效率-压比", cap_xy=(927, 7010),
         leg_x=327, leg_rows=(5744, 5814, 5885), pitch=439, rows=ROWSL, ms=1.0, cw_ms=36),
    dict(series=lpt_flow_series, labels=lpt_labels, styles=lpt_styles, box=(2199, 3528, 6878, 5892),
         ylab="流量", ylab_xy=(2100, 5911), xlab="压比", xlab_xy=(3461, 6943), cap="(j) 低压涡轮流量-压比", cap_xy=(2865, 7010),
         leg_x=2240, leg_rows=(5744, 5814, 5885), pitch=440, rows=ROWSL, ms=1.0, cw_ms=36),
]

ITEMW = 140
fig = go.Figure()
layout = {}
annotations = []
leg_n = 0


def px(x):
    return x / W


def py(y):
    return 1 - y / H


for k, p in enumerate(panels, start=1):
    sfx = "" if k == 1 else str(k)
    xa, ya = "x" + sfx, "y" + sfx
    x0, x1, y0, y1 = p["box"]
    layout["xaxis" + sfx] = dict(domain=[px(x0), px(x1)], range=[0, 100], visible=False, anchor=ya, fixedrange=True)
    layout["yaxis" + sfx] = dict(domain=[py(y0), py(y1)], range=[0, 100], visible=False, anchor=xa, fixedrange=True)

    # one horizontal legend per legend row of the panel
    which = {}
    for r, idxs in enumerate(p["rows"]):
        leg_n += 1
        lid = "legend" if leg_n == 1 else "legend%d" % leg_n
        for i in idxs:
            which[i] = lid
        layout[lid] = dict(x=px(p["leg_x"] - 6), y=py(p["leg_rows"][r] + LEG_DY), xanchor="left", yanchor="middle",
                           orientation="h", bgcolor="rgba(0,0,0,0)", borderwidth=0,
                           font=dict(family=SERIF, size=FS_LEG, color="black"),
                           itemwidth=ITEMW, entrywidth=p["pitch"] - ITEMW - 15, entrywidthmode="pixels",
                           tracegroupgap=0, itemclick=False, itemdoubleclick=False)

    n = len(p["series"])
    for i, ((xs, ys), name, (color, sym)) in enumerate(zip(p["series"], p["labels"], p["styles"])):
        size = MS[sym] * p["ms"]
        extra = {}
        if i == n - 1:
            extra["legendwidth"] = 420
            if p["cw_ms"]:
                size = p["cw_ms"]
        fig.add_trace(go.Scatter(
            x=xs, y=ys, name=name, mode="lines+markers", xaxis=xa, yaxis=ya, legend=which[i],
            line=dict(color=color, width=4.5),
            marker=dict(symbol=sym, size=size, color=color, line=dict(width=MLW, color=color)),
            cliponaxis=False, showlegend=True, hoverinfo="skip", **extra))

    # axis arrows
    for (hx, hy) in [(100, 0), (0, 100)]:
        annotations.append(dict(x=hx, y=hy, ax=0, ay=0, xref=xa, yref=ya, axref=xa, ayref=ya, text="",
                                showarrow=True, arrowhead=2, arrowsize=2.4, arrowwidth=6, arrowcolor="black"))
    # axis names and caption
    for txt, (tx, ty), fs, dy in [(p["ylab"], p["ylab_xy"], FS_LAB, LAB_DY), (p["xlab"], p["xlab_xy"], FS_LAB, LAB_DY),
                                  (p["cap"], p["cap_xy"], FS_CAP, CAP_DY)]:
        annotations.append(dict(x=px(tx), y=py(ty + dy), xref="paper", yref="paper", text=txt, showarrow=False,
                                xanchor="center", yanchor="middle", font=dict(family=SERIF, size=fs, color="black")))

layout.update(width=W, height=H, margin=dict(l=0, r=0, t=0, b=0, autoexpand=False),
              paper_bgcolor="white", plot_bgcolor="white",
              showlegend=True, annotations=annotations, font=dict(family=SERIF, size=FS_LAB, color="black"))
fig.update_layout(**layout)

# Remove the default page margin; if the browser window is smaller than the figure,
# scale the whole figure so that it is fully visible in the window.
FIT_JS = (
    "var gd=document.getElementById('{plot_id}');"
    "document.body.style.margin='0';"
    "var sx=Math.min(1, window.innerWidth/%d), sy=Math.min(1, window.innerHeight/%d);"
    "if(sx<1||sy<1){"
    " document.documentElement.style.overflow='hidden'; document.body.style.overflow='hidden';"
    " document.body.style.height=window.innerHeight+'px';"
    " gd.style.transformOrigin='0 0'; gd.style.transform='scale('+sx+','+sy+')';"
    "}" % (W, H)
)
fig.write_html("out.html", config={"displayModeBar": False}, post_script=FIT_JS)
